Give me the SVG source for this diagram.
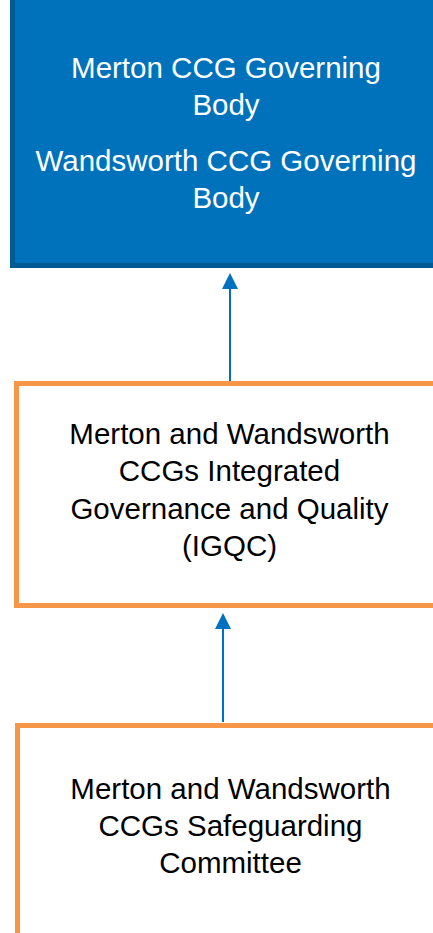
<svg xmlns="http://www.w3.org/2000/svg" width="433" height="933" viewBox="0 0 433 933">
  <style>
    .lbl { font-family: 'Liberation Sans', Arial, Helvetica, sans-serif; font-size: 29.5px; text-anchor: middle; }
    .white { fill: #ffffff; }
    .dark { fill: #000000; }
    .box { fill: #ffffff; stroke: #F79646; stroke-width: 5; }
    .conn { stroke: #0070C0; stroke-width: 2; fill: none; }
    .head { fill: #0070C0; }
  </style>

  <!-- Top: Governing Bodies -->
  <g id="governing-body">
    <rect x="12.5" y="-20" width="440" height="285.5" fill="#0072BC" stroke="#005A94" stroke-width="5"/>
    <text class="lbl white" x="226" y="77.5">Merton CCG Governing</text>
    <text class="lbl white" x="226" y="114.5">Body</text>
    <text class="lbl white" x="226" y="170.5">Wandsworth CCG Governing</text>
    <text class="lbl white" x="226" y="207.5">Body</text>
  </g>

  <!-- Middle: IGQC -->
  <g id="igqc">
    <rect class="box" x="16.5" y="383.5" width="440" height="222"/>
    <text class="lbl dark" x="229.5" y="443.5">Merton and Wandsworth</text>
    <text class="lbl dark" x="229.5" y="480.5">CCGs Integrated</text>
    <text class="lbl dark" x="229.5" y="518.5">Governance and Quality</text>
    <text class="lbl dark" x="229.5" y="556">(IGQC)</text>
  </g>

  <!-- Bottom: Safeguarding Committee -->
  <g id="safeguarding">
    <rect class="box" x="17.5" y="725.5" width="440" height="240"/>
    <text class="lbl dark" x="230.5" y="798.5">Merton and Wandsworth</text>
    <text class="lbl dark" x="230.5" y="835.5">CCGs Safeguarding</text>
    <text class="lbl dark" x="230.5" y="873">Committee</text>
  </g>

  <!-- Connectors -->
  <g id="connectors">
    <line class="conn" x1="230" y1="381" x2="230" y2="289"/>
    <path class="head" d="M222,289 L238,289 L230,273 Z"/>
    <line class="conn" x1="223" y1="722" x2="223" y2="629"/>
    <path class="head" d="M215,629 L231,629 L223,613 Z"/>
  </g>
</svg>
